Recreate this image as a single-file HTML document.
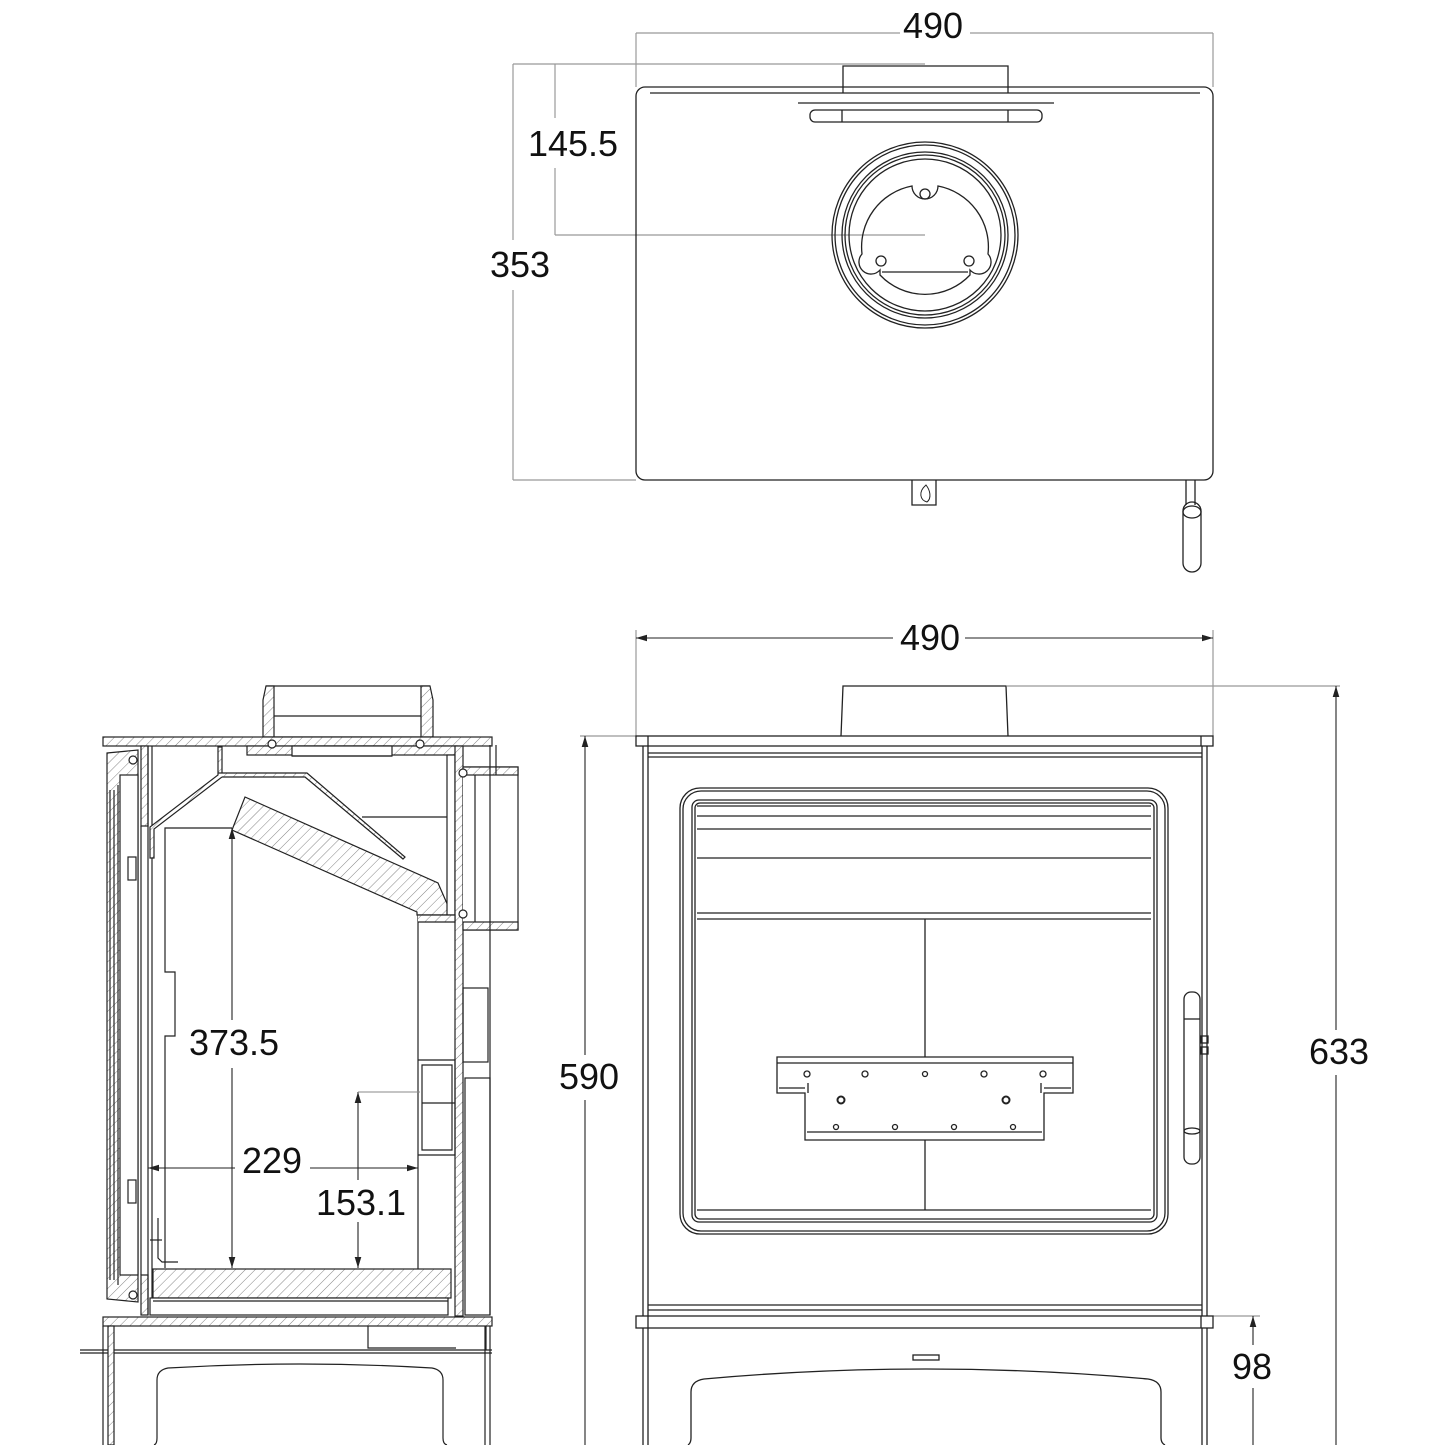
<!DOCTYPE html>
<html><head><meta charset="utf-8"><style>
html,body{margin:0;padding:0;background:#fff}
svg{display:block}
text{font-family:"Liberation Sans",sans-serif;font-size:36px;fill:#111}
</style></head><body>
<svg width="1445" height="1445" viewBox="0 0 1445 1445" xmlns="http://www.w3.org/2000/svg">
<defs>
<pattern id="h" width="7" height="7" patternUnits="userSpaceOnUse" patternTransform="rotate(45)">
<rect width="7" height="7" fill="#fff"/><line x1="0" y1="0" x2="0" y2="7" stroke="#777" stroke-width="0.9"/></pattern>
<marker id="a" markerWidth="10" markerHeight="6" refX="10" refY="3" orient="auto-start-reverse"><path d="M0,0 L10,3 L0,6z" fill="#222"/></marker>
</defs>

<g fill="none" stroke="#999" stroke-width="1.2">
<line x1="636" y1="33" x2="900" y2="33"/><line x1="970" y1="33" x2="1213" y2="33"/>
<line x1="636" y1="33" x2="636" y2="87"/><line x1="1213" y1="33" x2="1213" y2="87"/>
<line x1="513" y1="64" x2="925" y2="64"/>
<line x1="555" y1="235" x2="925" y2="235"/>
<line x1="555" y1="64" x2="555" y2="118"/><line x1="555" y1="168" x2="555" y2="235"/>
<line x1="513" y1="64" x2="513" y2="240"/><line x1="513" y1="290" x2="513" y2="480"/>
<line x1="513" y1="480" x2="636" y2="480"/>
</g>
<text x="933" y="38" text-anchor="middle">490</text>
<text x="573" y="156" text-anchor="middle">145.5</text>
<text x="520" y="277" text-anchor="middle">353</text>
<g fill="none" stroke="#222" stroke-width="1.3">
<rect x="636" y="87" width="577" height="393" rx="9"/>
<line x1="650" y1="93" x2="1200" y2="93"/>
<path d="M843,93 L843,66 L1008,66 L1008,93"/>
<line x1="798" y1="103" x2="1054" y2="103"/>
<rect x="810" y="110" width="232" height="12" rx="5"/>
<line x1="842" y1="110" x2="842" y2="122"/><line x1="1008" y1="110" x2="1008" y2="122"/>
<circle cx="925" cy="235" r="93"/><circle cx="925" cy="235" r="90"/>
<circle cx="925" cy="235" r="83"/><circle cx="925" cy="235" r="80"/><circle cx="925" cy="235" r="76"/>
<path d="M912,186 A62,62 0 0 0 862,254 A10,10 0 0 0 880,270 L880,275 A62,62 0 0 0 970,275 L970,270 A10,10 0 0 0 988,254 A62,62 0 0 0 938,186 A13,13 0 0 1 912,186Z"/>
<line x1="882" y1="272" x2="968" y2="272"/>
<circle cx="925" cy="194" r="5"/><circle cx="881" cy="261" r="5"/><circle cx="969" cy="261" r="5"/>
<path d="M912,480 L912,505 L936,505 L936,480"/>
<path d="M926,485 C918,492 920,500 927,502 C932,498 930,490 926,485Z" stroke-width="1"/>
<line x1="1186" y1="480" x2="1186" y2="505"/><line x1="1195" y1="480" x2="1195" y2="505"/>
<rect x="1183" y="502" width="18" height="70" rx="9"/>
<ellipse cx="1192" cy="512" rx="9" ry="6"/>
</g>

<g fill="none" stroke="#999" stroke-width="1.2">
<line x1="636" y1="630" x2="636" y2="736"/><line x1="1213" y1="630" x2="1213" y2="736"/>
<line x1="1007" y1="686" x2="1340" y2="686"/>
<line x1="580" y1="736" x2="636" y2="736"/>
<line x1="1213" y1="1316" x2="1260" y2="1316"/>
</g>
<g stroke="#222" stroke-width="1.1">
<line x1="636" y1="638" x2="893" y2="638" marker-start="url(#a)"/><line x1="965" y1="638" x2="1213" y2="638" marker-end="url(#a)"/>
<line x1="1336" y1="686" x2="1336" y2="1030" marker-start="url(#a)"/><line x1="1336" y1="1075" x2="1336" y2="1445"/>
<line x1="1253" y1="1316" x2="1253" y2="1345" marker-start="url(#a)"/><line x1="1253" y1="1388" x2="1253" y2="1445"/>
<line x1="585" y1="736" x2="585" y2="1055" marker-start="url(#a)"/><line x1="585" y1="1100" x2="585" y2="1445"/>
</g>
<text x="930" y="650" text-anchor="middle">490</text>
<text x="1339" y="1064" text-anchor="middle">633</text>
<text x="1252" y="1379" text-anchor="middle">98</text>
<text x="589" y="1089" text-anchor="middle">590</text>
<g fill="none" stroke="#222" stroke-width="1.3">
<path d="M841,736 L843,686 L1006,686 L1008,736"/>
<rect x="636" y="736" width="577" height="10"/>
<line x1="648" y1="736" x2="648" y2="746"/><line x1="1201" y1="736" x2="1201" y2="746"/>
<line x1="643" y1="746" x2="643" y2="1316"/><line x1="648" y1="746" x2="648" y2="1316"/>
<line x1="1202" y1="746" x2="1202" y2="1316"/><line x1="1207" y1="746" x2="1207" y2="1316"/>
<line x1="648" y1="753" x2="1202" y2="753"/><line x1="648" y1="757" x2="1202" y2="757"/>
<line x1="648" y1="1305" x2="1202" y2="1305"/><line x1="648" y1="1310" x2="1202" y2="1310"/>
<rect x="680" y="788" width="488" height="446" rx="20"/>
<rect x="683" y="791" width="482" height="440" rx="18"/>
<rect x="692" y="800" width="465" height="422" rx="7"/>
<rect x="695" y="803" width="459" height="416" rx="5"/>
<line x1="697" y1="806" x2="1151" y2="806"/><line x1="697" y1="816" x2="1151" y2="816"/>
<line x1="697" y1="829" x2="1151" y2="829"/><line x1="697" y1="858" x2="1151" y2="858"/>
<line x1="697" y1="913" x2="1151" y2="913"/><line x1="697" y1="919" x2="1151" y2="919"/>
<line x1="697" y1="1210" x2="1151" y2="1210"/>
<line x1="925" y1="919" x2="925" y2="1057"/><line x1="925" y1="1140" x2="925" y2="1210"/>
<path d="M777,1057 L1073,1057 L1073,1093 L1044,1093 L1044,1140 L805,1140 L805,1093 L777,1093Z"/>
<line x1="777" y1="1063" x2="1073" y2="1063"/>
<line x1="807" y1="1132" x2="1042" y2="1132"/>
<line x1="779" y1="1088" x2="805" y2="1088"/><line x1="1044" y1="1088" x2="1071" y2="1088"/>
<line x1="808" y1="1083" x2="808" y2="1093"/><line x1="1041" y1="1083" x2="1041" y2="1093"/>
<circle cx="807" cy="1074" r="3"/><circle cx="865" cy="1074" r="3"/><circle cx="925" cy="1074" r="2.5"/>
<circle cx="984" cy="1074" r="3"/><circle cx="1043" cy="1074" r="3"/>
<circle cx="841" cy="1100" r="3.5" stroke-width="2"/><circle cx="1006" cy="1100" r="3.5" stroke-width="2"/>
<circle cx="836" cy="1127" r="2.5"/><circle cx="895" cy="1127" r="2.5"/><circle cx="954" cy="1127" r="2.5"/><circle cx="1013" cy="1127" r="2.5"/>
<rect x="1184" y="992" width="16" height="172" rx="7"/>
<line x1="1184" y1="1019" x2="1200" y2="1019"/>
<ellipse cx="1192" cy="1131" rx="8" ry="3"/>
<rect x="1201" y="1036" width="7" height="7"/><rect x="1201" y="1047" width="7" height="7"/>
<rect x="636" y="1316" width="577" height="12"/>
<line x1="648" y1="1316" x2="648" y2="1328"/><line x1="1201" y1="1316" x2="1201" y2="1328"/>
<line x1="643" y1="1328" x2="643" y2="1445"/><line x1="648" y1="1328" x2="648" y2="1445"/>
<line x1="1202" y1="1328" x2="1202" y2="1445"/><line x1="1207" y1="1328" x2="1207" y2="1445"/>
<rect x="913" y="1355" width="26" height="5"/>
<path d="M688,1445 Q691,1443 691,1438 L691,1392 Q691,1381 704,1379 Q815,1369 926,1369 Q1037,1369 1148,1379 Q1161,1381 1161,1392 L1161,1438 Q1161,1443 1165,1445"/>
</g>

<g stroke="#222" stroke-width="1.2">
<line x1="266" y1="686" x2="430" y2="686" fill="none"/>
<path d="M263,737 L263,700 L266,686 L274,686 L274,737Z" fill="url(#h)"/>
<path d="M421,737 L421,686 L430,686 L433,700 L433,737Z" fill="url(#h)"/>
<line x1="274" y1="716" x2="421" y2="716" fill="none"/>
<line x1="274" y1="737" x2="421" y2="737" fill="none"/>
<rect x="103" y="737" width="389" height="9" fill="url(#h)"/>
<rect x="247" y="746" width="210" height="9" fill="url(#h)"/>
<rect x="292" y="746" width="100" height="10" fill="#fff"/>
<line x1="292" y1="756" x2="392" y2="756"/>
<circle cx="272" cy="744" r="4" fill="#fff"/><circle cx="420" cy="744" r="4" fill="#fff"/>
<path d="M107,753 L138,750 L138,1302 L107,1299Z" fill="url(#h)"/>
<rect x="120" y="775" width="18" height="500" fill="#fff"/>
<line x1="110" y1="790" x2="110" y2="1280"/><line x1="114" y1="790" x2="114" y2="1280"/>
<line x1="118" y1="785" x2="118" y2="1285"/>
<rect x="128" y="857" width="8" height="23" fill="#fff"/>
<rect x="128" y="1180" width="8" height="23" fill="#fff"/>
<circle cx="133" cy="760" r="4" fill="#fff"/><circle cx="133" cy="1295" r="4" fill="#fff"/>
<rect x="141" y="746" width="7" height="80" fill="url(#h)"/>
<rect x="141" y="1275" width="7" height="40" fill="url(#h)"/>
<line x1="141" y1="826" x2="141" y2="1275"/><line x1="148" y1="746" x2="148" y2="1315"/><line x1="152" y1="746" x2="152" y2="1315"/>
<path d="M165,1268 L165,1036 L175,1036 L175,972 L165,972 L165,828 L232,828" fill="none"/>
<path d="M158,1218 L158,1258 L162,1262 L178,1262" fill="none"/>
<line x1="150" y1="1240" x2="162" y2="1240"/>
<path d="M150,858 L150,827 L218,775 L218,747 L222,747 L222,777 L154,829 L154,858Z" fill="url(#h)"/>
<path d="M218,773 L307,773 L405,857 L403,859 L305,777 L222,777" fill="url(#h)"/>
<path d="M362,817 L447,817" fill="none"/>
<path d="M232,830 L245,797 L438,883 L452,915 L417,915 L417,912Z" fill="url(#h)"/>
<rect x="447" y="755" width="8" height="160" fill="#fff"/>
<rect x="455" y="746" width="8" height="570" fill="url(#h)"/>
<line x1="418" y1="915" x2="418" y2="1269" fill="none"/>
<path d="M418,915 L455,915 L455,922 L418,922" fill="url(#h)"/>
<path d="M463,767 L518,767 L518,930 L463,930" fill="#fff"/>
<rect x="463" y="767" width="55" height="8" fill="url(#h)"/>
<rect x="463" y="922" width="55" height="8" fill="url(#h)"/>
<line x1="475" y1="775" x2="475" y2="922"/><line x1="490" y1="745" x2="490" y2="1315"/><line x1="496" y1="745" x2="496" y2="775"/>
<circle cx="463" cy="773" r="4" fill="#fff"/><circle cx="463" cy="914" r="4" fill="#fff"/>
<path d="M418,1060 L455,1060 L455,1155 L418,1155" fill="none"/>
<path d="M422,1065 L452,1065 L452,1150 L422,1150 Z" fill="none"/>
<line x1="422" y1="1103" x2="455" y2="1103"/>
<rect x="463" y="988" width="25" height="74" fill="none"/>
<rect x="465" y="1078" width="25" height="237" fill="none"/>
<rect x="153" y="1269" width="298" height="29" fill="url(#h)"/>
<rect x="150" y="1298" width="298" height="17" fill="#fff"/>
<line x1="153" y1="1301" x2="448" y2="1301"/>
<rect x="103" y="1317" width="389" height="9" fill="url(#h)"/>
<path d="M368,1326 L368,1348 L456,1348" fill="none"/>
<path d="M486,1326 L486,1350" fill="none"/>
<line x1="80" y1="1350" x2="492" y2="1350"/>
<line x1="80" y1="1353" x2="492" y2="1353"/>
<rect x="108" y="1326" width="6" height="119" fill="url(#h)"/>
<line x1="103" y1="1326" x2="103" y2="1445"/>
<line x1="485" y1="1326" x2="485" y2="1445"/><line x1="490" y1="1326" x2="490" y2="1445"/>
<path d="M154,1445 Q157,1444 157,1438 L157,1380 Q157,1370 168,1368 Q300,1360 432,1368 Q443,1370 443,1380 L443,1438 Q443,1444 447,1445" fill="none"/>
</g>
<g stroke="#222" stroke-width="1.1" fill="none">
<line x1="232" y1="828" x2="232" y2="1020" marker-start="url(#a)"/><line x1="232" y1="1068" x2="232" y2="1268" marker-end="url(#a)"/>
<line x1="148" y1="1168" x2="235" y2="1168" marker-start="url(#a)"/><line x1="310" y1="1168" x2="418" y2="1168" marker-end="url(#a)"/>
<line x1="358" y1="1092" x2="358" y2="1180" marker-start="url(#a)"/><line x1="358" y1="1222" x2="358" y2="1268" marker-end="url(#a)"/>
<line x1="358" y1="1092" x2="420" y2="1092" stroke="#888"/>
</g>
<text x="234" y="1055" text-anchor="middle">373.5</text>
<text x="272" y="1173" text-anchor="middle">229</text>
<text x="361" y="1215" text-anchor="middle">153.1</text>
</svg>
</body></html>
